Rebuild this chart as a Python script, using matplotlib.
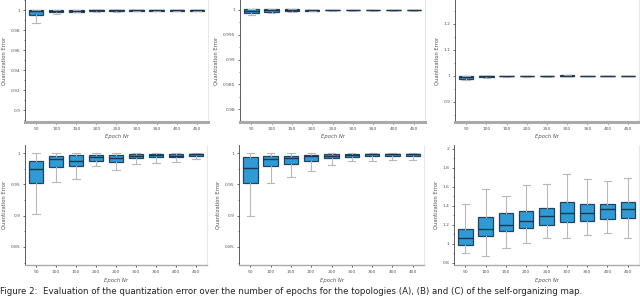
import matplotlib
matplotlib.use('Agg')
import matplotlib.pyplot as plt
from matplotlib.ticker import AutoMinorLocator

epochs = ['50', '100', '150', '200', '250', '300', '350', '400', '450']

# box statistics: lower whisker, q1, median, q3, upper whisker
a_lo  = [0.9867, 0.9957, 0.9980, 0.9985, 0.9985, 0.9988, 0.9988, 0.9988, 0.9988]
a_q1  = [0.9947, 0.9980, 0.9985, 0.9990, 0.9990, 0.9992, 0.9992, 0.9992, 0.9992]
a_med = [0.9995, 0.9995, 0.9995, 0.9997, 0.9997, 0.9998, 0.9998, 0.9998, 0.9998]
a_q3  = [1.0, 1.0, 1.0, 1.0, 1.0, 1.0, 1.0, 1.0, 1.0]
a_hi  = [1.0, 1.0, 1.0, 1.0, 1.0, 1.0, 1.0, 1.0, 1.0]

b_lo  = [0.9990, 0.9993, 0.9996, 0.9997, 0.9998, 0.9998, 0.9998, 0.9998, 0.9998]
b_q1  = [0.9994, 0.9996, 0.9997, 0.9998, 0.9999, 0.9999, 0.9999, 0.9999, 0.9999]
b_med = [0.9998, 0.9999, 0.9999, 0.9999, 1.0, 1.0, 1.0, 1.0, 1.0]
b_q3  = [1.0002, 1.0001, 1.0001, 1.0, 1.0, 1.0, 1.0, 1.0, 1.0]
b_hi  = [1.0002, 1.0001, 1.0001, 1.0, 1.0, 1.0, 1.0, 1.0, 1.0]

c_lo  = [0.983, 0.994, 0.997, 0.997, 0.996, 0.998, 0.998, 0.998, 0.998]
c_q1  = [0.988, 0.996, 0.998, 0.998, 0.998, 0.999, 0.999, 0.999, 0.999]
c_med = [0.995, 0.998, 0.999, 0.999, 0.999, 1.0, 1.0, 1.0, 1.0]
c_q3  = [1.0, 1.0, 1.0, 1.0, 1.0, 1.002, 1.001, 1.001, 1.001]
c_hi  = [1.0, 1.0, 1.0, 1.0, 1.0, 1.002, 1.001, 1.001, 1.001]

d_lo  = [0.902, 0.954, 0.958, 0.979, 0.973, 0.982, 0.985, 0.986, 0.990]
d_q1  = [0.952, 0.978, 0.980, 0.988, 0.986, 0.992, 0.994, 0.994, 0.996]
d_med = [0.974, 0.990, 0.988, 0.994, 0.993, 0.995, 0.997, 0.996, 0.998]
d_q3  = [0.988, 0.995, 0.997, 0.997, 0.997, 0.998, 0.999, 0.999, 0.999]
d_hi  = [1.0, 1.0, 1.0, 1.0, 1.0, 1.0, 1.0, 1.0, 1.0]

e_lo  = [0.899, 0.953, 0.962, 0.971, 0.981, 0.987, 0.987, 0.989, 0.989]
e_q1  = [0.953, 0.979, 0.982, 0.987, 0.992, 0.994, 0.995, 0.995, 0.995]
e_med = [0.976, 0.990, 0.992, 0.995, 0.996, 0.997, 0.998, 0.999, 0.998]
e_q3  = [0.994, 0.996, 0.996, 0.997, 0.998, 0.998, 0.999, 0.999, 0.999]
e_hi  = [1.0, 1.0, 1.0, 1.0, 1.0, 1.0, 1.0, 1.0, 1.0]

f_lo  = [0.900, 0.873, 0.960, 1.004, 1.060, 1.060, 1.097, 1.108, 1.056]
f_q1  = [0.983, 1.080, 1.130, 1.166, 1.194, 1.228, 1.235, 1.259, 1.276]
f_med = [1.056, 1.160, 1.200, 1.240, 1.287, 1.328, 1.328, 1.366, 1.366]
f_q3  = [1.159, 1.280, 1.320, 1.345, 1.380, 1.435, 1.418, 1.418, 1.435]
f_hi  = [1.414, 1.580, 1.504, 1.615, 1.630, 1.735, 1.683, 1.656, 1.690]

W, H = 640, 297
fig = plt.figure(figsize=(6.4, 2.97), dpi=100)

def px_axes(x0, x1, y0, y1):
    return fig.add_axes([x0 / W, 1 - y1 / H, (x1 - x0) / W, (y1 - y0) / H])

def panel(ax, lo, q1, med, q3, hi, ylim, yticks, ylabels, xpad, thick):
    stats = []
    for i in range(len(epochs)):
        stats.append(dict(whislo=lo[i], q1=q1[i], med=med[i], q3=q3[i], whishi=hi[i], fliers=[]))
    ax.bxp(stats, positions=range(len(epochs)), widths=0.72, patch_artist=True,
           boxprops=dict(facecolor='#2e9ad6', edgecolor='#23435f', linewidth=0.9),
           medianprops=dict(color='#1d3550', linewidth=1.0),
           whiskerprops=dict(color='#b8b8b8', linewidth=0.8),
           capprops=dict(color='#b8b8b8', linewidth=0.8),
           showfliers=False)
    ax.set_xlim(-0.55, 8.55)
    ax.set_ylim(*ylim)
    ax.set_yticks(yticks)
    ax.set_yticklabels(ylabels)
    ax.yaxis.set_minor_locator(AutoMinorLocator(2))
    ax.set_xticks(range(len(epochs)))
    ax.set_xticklabels(epochs)
    ax.tick_params(axis='both', labelsize=3.2, colors='#555555', length=1.5, width=0.6, pad=2)
    ax.tick_params(axis='y', which='minor', length=1, width=0.5, color='#555555')
    ax.tick_params(axis='x', colors='#333333', labelcolor='#555555')
    ax.set_xlabel('Epoch Nr', fontsize=3.8, color='#555555', style='italic', labelpad=xpad)
    ax.set_ylabel('Quantization Error', fontsize=3.8, color='#555555', labelpad=3)
    ax.spines['top'].set_visible(False)
    ax.spines['right'].set_color('#e4e4e4')
    ax.spines['right'].set_linewidth(0.6)
    ax.spines['left'].set_color('#444444')
    ax.spines['left'].set_linewidth(0.6)
    ax.spines['bottom'].set_color('#aaaaaa')
    ax.spines['bottom'].set_linewidth(thick)

ax1 = px_axes(25, 208, 0, 122)
panel(ax1, a_lo, a_q1, a_med, a_q3, a_hi, (0.888, 1.010),
      [0.9, 0.92, 0.94, 0.96, 0.98, 1.0], ['0.9', '0.92', '0.94', '0.96', '0.98', '1'], 2, 2.2)
ax2 = px_axes(240, 425, 0, 122)
panel(ax2, b_lo, b_q1, b_med, b_q3, b_hi, (0.9774, 1.002),
      [0.98, 0.985, 0.99, 0.995, 1.0], ['0.98', '0.985', '0.99', '0.995', '1'], 2, 2.2)
ax3 = px_axes(455, 639, 0, 122)
panel(ax3, c_lo, c_q1, c_med, c_q3, c_hi, (0.823, 1.292),
      [0.9, 1.0, 1.1, 1.2], ['0.9', '1', '1.1', '1.2'], 2, 2.2)

ax4 = px_axes(25, 207, 145, 265)
panel(ax4, d_lo, d_q1, d_med, d_q3, d_hi, (0.821, 1.013),
      [0.85, 0.9, 0.95, 1.0], ['0.85', '0.9', '0.95', '1'], 3, 1.0)
ax5 = px_axes(239, 424, 145, 265)
panel(ax5, e_lo, e_q1, e_med, e_q3, e_hi, (0.821, 1.013),
      [0.85, 0.9, 0.95, 1.0], ['0.85', '0.9', '0.95', '1'], 3, 1.0)
ax6 = px_axes(454, 639, 145, 265)
panel(ax6, f_lo, f_q1, f_med, f_q3, f_hi, (0.776, 2.04),
      [0.8, 1.0, 1.2, 1.4, 1.6, 1.8, 2.0], ['0.8', '1', '1.2', '1.4', '1.6', '1.8', '2'], 3, 1.0)

# caption line at the very bottom of the page crop
fig.text(0.0, 0.004, 'Figure 2:  Evaluation of the quantization error over the number of epochs for '
         'the topologies (A), (B) and (C) of the self-organizing map.',
         fontsize=6.2, color='#222222', va='bottom', ha='left')

fig.savefig('out.png', dpi=100)
